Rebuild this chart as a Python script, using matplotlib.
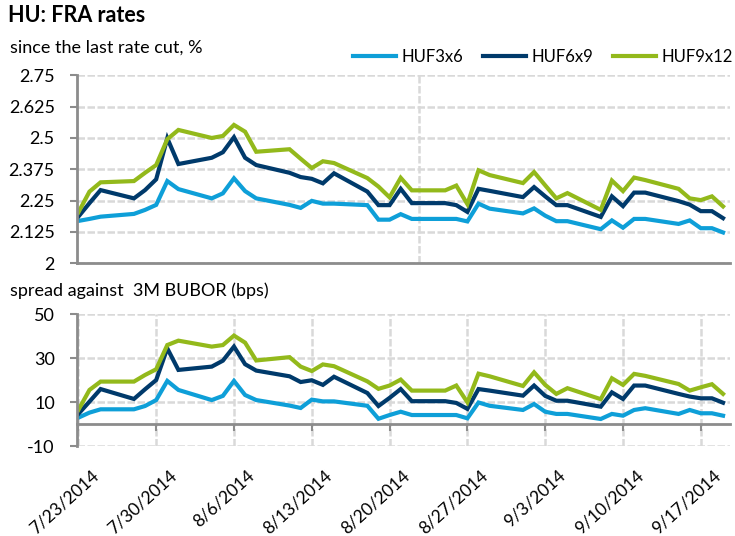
import pandas as pd
import matplotlib
matplotlib.use('Agg')
import matplotlib.pyplot as plt
import matplotlib.dates as mdates
import matplotlib.transforms as mtransforms

plt.rcParams['font.family'] = ['Lato', 'DejaVu Sans']
plt.rcParams['axes.unicode_minus'] = False

# business days 7/23/2014 - 9/19/2014
dates = pd.bdate_range('2014-07-23', '2014-09-19')

# FRA rates, %
huf3x6 = [2.169, 2.177, 2.186, 2.197, 2.213, 2.233, 2.328, 2.296, 2.259, 2.279, 2.339, 2.288, 2.259,
          2.233, 2.221, 2.249, 2.238, 2.238, 2.232, 2.174, 2.174, 2.196, 2.177, 2.177, 2.177, 2.167,
          2.238, 2.218, 2.199, 2.219, 2.19, 2.168, 2.168, 2.136, 2.171, 2.142, 2.177, 2.177, 2.157,
          2.171, 2.14, 2.14, 2.123]
huf6x9 = [2.186, 2.24, 2.292, 2.259, 2.292, 2.335, 2.499, 2.396, 2.421, 2.443, 2.503, 2.421, 2.392,
          2.361, 2.344, 2.337, 2.319, 2.359, 2.286, 2.232, 2.232, 2.297, 2.24, 2.24, 2.232, 2.205,
          2.297, 2.289, 2.264, 2.304, 2.267, 2.232, 2.232, 2.185, 2.267, 2.228, 2.282, 2.282, 2.248,
          2.234, 2.208, 2.208, 2.18]
huf9x12 = [2.203, 2.286, 2.323, 2.328, 2.361, 2.392, 2.495, 2.532, 2.50, 2.508, 2.552, 2.525, 2.445,
           2.455, 2.417, 2.38, 2.407, 2.40, 2.34, 2.306, 2.263, 2.341, 2.291, 2.291, 2.31, 2.236,
           2.371, 2.352, 2.32, 2.364, 2.311, 2.259, 2.28, 2.213, 2.33, 2.288, 2.342, 2.332, 2.297,
           2.259, 2.252, 2.267, 2.227]

# spread against 3M BUBOR, bps
spr3x6 = [3, 5.3, 6.8, 6.8, 8.3, 11, 19.7, 15.6, 11, 12.9, 19.7, 13.3, 11,
          8.5, 7.4, 11.2, 10.4, 10.4, 8.4, 2.5, 4.2, 5.7, 4.2, 4.2, 4.2, 2.7,
          9.9, 8.4, 6.5, 9.2, 5.7, 4.7, 4.7, 2.4, 4.7, 3.9, 6.5, 7.3, 4.7,
          6.5, 5, 5, 3.9]
spr6x9 = [4.7, 10.3, 16, 11.5, 15.9, 20.1, 34.5, 24.7, 26.2, 28.9, 35.3, 27.3, 24.4,
          21.8, 19.2, 20, 17.9, 21.6, 14.2, 8.3, 12, 16, 10.5, 10.5, 9.7, 7,
          16, 15.3, 13, 17.6, 12.9, 10.7, 10.7, 8, 14.5, 11.5, 17.6, 17.6, 13.8,
          12.6, 11.8, 11.8, 9.8]
spr9x12 = [6.5, 15.6, 19.4, 19.4, 22.4, 25, 36, 38, 35.3, 36, 40.3, 37.1, 29,
           30.5, 26.2, 24.2, 27.2, 26.4, 19.5, 16.1, 17.6, 20.3, 15.3, 15.3, 17.6, 10,
           23, 21.8, 17.4, 23.6, 17.9, 13.8, 16.4, 11.4, 20.9, 17.9, 22.9, 22, 18.3,
           15.3, 16.8, 18.2, 13.8]

series_names = ['HUF3x6', 'HUF6x9', 'HUF9x12']
colors = ['#0E9FD8', '#003A6B', '#93B91B']

tick_dates = pd.date_range('2014-07-23', '2014-09-17', freq='7D')
tick_labels = [f'{d.month}/{d.day}/{d.year}' for d in tick_dates]

x = mdates.date2num(dates)
xt = mdates.date2num(tick_dates)
xlim = (x[0] - 0.12, x[-1] + 0.6)

grid_c = '#D9D9D9'
axis_c = '#8C8C8C'
fs = 13

fig = plt.figure(figsize=(7.35, 5.36), dpi=100)

# top panel
ax1 = fig.add_axes([0.1048, 0.5088, 0.888, 0.3507])
for vals, c, name in zip([huf3x6, huf6x9, huf9x12], colors, series_names):
    ax1.plot(x, vals, color=c, lw=3, label=name, solid_joinstyle='miter')
ax1.set_xlim(xlim)
ax1.set_ylim(2, 2.75)
ax1.set_yticks([2, 2.125, 2.25, 2.375, 2.5, 2.625, 2.75])
ax1.set_yticklabels(['2', '2.125', '2.25', '2.375', '2.5', '2.625', '2.75'])
ax1.set_xticks([])
ax1.axvline(x[0] + 30.64, color=grid_c, lw=1.8, ls=(0, (3, 1)), zorder=0)
ax1.yaxis.grid(True, color=grid_c, lw=1.8, ls=(0, (3, 1)), zorder=0)

# bottom panel
ax2 = fig.add_axes([0.1048, 0.1674, 0.888, 0.2463])
for vals, c in zip([spr3x6, spr6x9, spr9x12], colors):
    ax2.plot(x, vals, color=c, lw=3, solid_joinstyle='miter')
ax2.set_xlim(xlim)
ax2.set_ylim(-10, 50)
ax2.set_yticks([-10, 10, 30, 50])
ax2.set_xticks(xt)
ax2.set_xticklabels(tick_labels)
ax2.spines['bottom'].set_position(('data', 0))
ax2.tick_params(axis='x', pad=26, length=5, width=1.5, color=axis_c)
ax2.grid(True, color=grid_c, lw=1.8, ls=(0, (3, 1)), zorder=0)

for ax in (ax1, ax2):
    ax.set_axisbelow(True)
    for s in ['top', 'right']:
        ax.spines[s].set_visible(False)
    for s in ['left', 'bottom']:
        ax.spines[s].set_color(axis_c)
        ax.spines[s].set_linewidth(2)
    ax.tick_params(axis='y', length=5, width=1.5, color=axis_c, pad=11)
    ax.tick_params(labelsize=fs, labelcolor='black')

shift = mtransforms.ScaledTranslation(9 / 72, 0, fig.dpi_scale_trans)
for lab in ax2.get_xticklabels():
    lab.set_fontsize(12.5)
    lab.set_rotation(42)
    lab.set_ha('right')
    lab.set_rotation_mode('anchor')
    lab.set_transform(lab.get_transform() + shift)

fig.text(0.011, 0.972, 'HU: FRA rates', fontsize=15.5, fontweight='bold', va='center')
fig.text(0.013, 0.912, 'since the last rate cut, %', fontsize=fs, va='center')
fig.text(0.013, 0.457, 'spread against  3M BUBOR (bps)', fontsize=fs, va='center')

fig.legend(loc='center right', bbox_to_anchor=(0.997, 0.894), ncol=3, frameon=False,
           fontsize=12, handlelength=2.6, handletextpad=0.3, columnspacing=1.2,
           borderaxespad=0, borderpad=0)

fig.savefig('out.png', dpi=100)
